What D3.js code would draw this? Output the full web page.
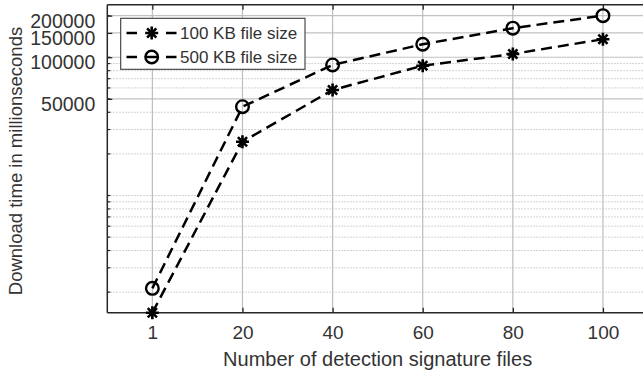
<!DOCTYPE html>
<html>
<head>
<meta charset="utf-8">
<script src="https://cdn.jsdelivr.net/npm/d3@7"></script>
<style>
  html, body { margin: 0; padding: 0; background: #fff; }
  svg { display: block; font-family: "Liberation Sans", Arial, Helvetica, sans-serif; }
</style>
</head>
<body>
<svg id="chart" width="643" height="378"></svg>
<script>
// ---- data ----
const categories = ["1", "20", "40", "60", "80", "100"];
const series100KB = [1420, 24500, 58000, 86900, 105600, 135000];
const series500KB = [2130, 43900, 88000, 124200, 162400, 200000];
const seriesNames = ["100 KB file size", "500 KB file size"];
const yTickValues = [50000, 100000, 150000, 200000];
const yDomain = [1420, 240000];
const xLabel = "Number of detection signature files";
const yLabel = "Download time in millionseconds";

// ---- layout ----
const W = 643, H = 378;
const plot = { left: 107.3, top: 4.7, right: 648, bottom: 312.7 };
const ink = "#262626";
const textInk = "#333333";
const fontFam = "Liberation Sans, Arial, sans-serif";

const svg = d3.select("#chart");

const x = d3.scalePoint().domain(categories).range([plot.left, plot.right]).padding(0.5);
const y = d3.scaleLog().domain(yDomain).range([plot.bottom, plot.top]);

// minor log positions
const minorVals = [];
for (let e = 3; e <= 5; e++) {
  for (let m = 1; m <= 9; m++) {
    const v = m * Math.pow(10, e);
    if (v >= yDomain[0] && v <= yDomain[1]) minorVals.push(v);
  }
}

const g = svg.append("g");

// minor grid (dotted)
g.append("g").selectAll("line").data(minorVals.filter(v => !yTickValues.includes(v))).join("line")
  .attr("x1", plot.left).attr("x2", plot.right)
  .attr("y1", d => y(d)).attr("y2", d => y(d))
  .attr("stroke", "#c4c4c4").attr("stroke-width", 1)
  .attr("stroke-dasharray", "1.5,1.5");

// major grid horizontal
g.append("g").selectAll("line").data(yTickValues).join("line")
  .attr("x1", plot.left).attr("x2", plot.right)
  .attr("y1", d => y(d)).attr("y2", d => y(d))
  .attr("stroke", "#c2c2c2").attr("stroke-width", 1.2);

// vertical grid
g.append("g").selectAll("line").data(categories).join("line")
  .attr("x1", d => x(d)).attr("x2", d => x(d))
  .attr("y1", plot.top).attr("y2", plot.bottom)
  .attr("stroke", "#bdbdbd").attr("stroke-width", 1.2);

// axes (D3 axes with inward ticks)
const xAxis = d3.axisBottom(x).tickSize(-5).tickPadding(13);
const xAxisG = svg.append("g").attr("transform", `translate(0,${plot.bottom})`).call(xAxis);
xAxisG.select(".domain").remove();
xAxisG.selectAll(".tick line").attr("stroke", ink).attr("stroke-width", 1.3);
xAxisG.selectAll(".tick text").attr("fill", textInk).attr("font-size", 19).attr("font-family", fontFam);

const xTopAxis = d3.axisTop(x).tickSize(-5).tickFormat("");
const xTopG = svg.append("g").attr("transform", `translate(0,${plot.top})`).call(xTopAxis);
xTopG.select(".domain").remove();
xTopG.selectAll(".tick line").attr("stroke", ink).attr("stroke-width", 1.3);

const yAxis = d3.axisLeft(y).tickValues(yTickValues).tickFormat(d3.format("d")).tickSize(-5).tickPadding(12);
const yAxisG = svg.append("g").attr("transform", `translate(${plot.left},0)`).call(yAxis);
yAxisG.select(".domain").remove();
yAxisG.selectAll(".tick line").attr("stroke", ink).attr("stroke-width", 1.3);
yAxisG.selectAll(".tick text").attr("fill", textInk).attr("font-size", 19.5)
  .attr("dy", "0.6em").attr("font-family", fontFam);

// minor ticks on left axis
svg.append("g").selectAll("line").data(minorVals).join("line")
  .attr("x1", plot.left).attr("x2", plot.left + 3)
  .attr("y1", d => y(d)).attr("y2", d => y(d))
  .attr("stroke", ink).attr("stroke-width", 1.2);

// axis lines (box)
svg.append("line").attr("x1", plot.left).attr("x2", plot.right).attr("y1", plot.bottom).attr("y2", plot.bottom)
  .attr("stroke", ink).attr("stroke-width", 1.5);
svg.append("line").attr("x1", plot.left).attr("x2", plot.right).attr("y1", plot.top).attr("y2", plot.top)
  .attr("stroke", ink).attr("stroke-width", 1.5);
svg.append("line").attr("x1", plot.left).attr("x2", plot.left).attr("y1", plot.top).attr("y2", plot.bottom)
  .attr("stroke", ink).attr("stroke-width", 1.5);

// axis labels
svg.append("text").attr("x", (plot.left + plot.right) / 2).attr("y", 366)
  .attr("text-anchor", "middle").attr("font-size", 20).attr("fill", textInk).text(xLabel);
svg.append("text").attr("transform", `translate(22,${161}) rotate(-90)`)
  .attr("text-anchor", "middle").attr("font-size", 18.5).attr("fill", textInk).text(yLabel);

// markers
function starPath(cx, cy, r) {
  const d = r * Math.SQRT1_2;
  return `M${cx - r},${cy}L${cx + r},${cy}M${cx},${cy - r}L${cx},${cy + r}` +
         `M${cx - d},${cy - d}L${cx + d},${cy + d}M${cx - d},${cy + d}L${cx + d},${cy - d}`;
}
function drawMarker(sel, type, cx, cy) {
  if (type === "star") {
    sel.append("path").attr("d", starPath(cx, cy, 6.5))
      .attr("stroke", "#000").attr("stroke-width", 2.6).attr("fill", "none");
  } else {
    sel.append("circle").attr("cx", cx).attr("cy", cy).attr("r", 6.3)
      .attr("stroke", "#000").attr("stroke-width", 2.4).attr("fill", "none");
  }
}

const line = d3.line().x((d, i) => x(categories[i])).y(d => y(d));
const seriesList = [
  { values: series100KB, marker: "star" },
  { values: series500KB, marker: "circle" }
];
const dataG = svg.append("g");
seriesList.forEach(s => {
  dataG.append("path").datum(s.values).attr("d", line)
    .attr("fill", "none").attr("stroke", "#000").attr("stroke-width", 2.5)
    .attr("stroke-dasharray", "11,6");
  s.values.forEach((v, i) => drawMarker(dataG, s.marker, x(categories[i]), y(v)));
});

// legend
const leg = svg.append("g");
leg.append("rect").attr("x", 120.7).attr("y", 18.3).attr("width", 184.3).attr("height", 51)
  .attr("fill", "#fff").attr("stroke", "#3a3a3a").attr("stroke-width", 1.1);
seriesList.forEach((s, i) => {
  const cy = 33 + i * 24;
  leg.append("line").attr("x1", 126.5).attr("x2", 137).attr("y1", cy).attr("y2", cy)
    .attr("stroke", "#000").attr("stroke-width", 2.5);
  leg.append("line").attr("x1", 166).attr("x2", 176.5).attr("y1", cy).attr("y2", cy)
    .attr("stroke", "#000").attr("stroke-width", 2.5);
  drawMarker(leg, s.marker, 151.7, cy);
  if (s.marker === "circle") {
    leg.append("line").attr("x1", 146).attr("x2", 157.5).attr("y1", cy).attr("y2", cy)
      .attr("stroke", "#000").attr("stroke-width", 2.5);
  }
  leg.append("text").attr("x", 180).attr("y", cy).attr("dy", "0.36em")
    .attr("font-size", 17).attr("fill", textInk).text(seriesNames[i]);
});
</script>
</body>
</html>
